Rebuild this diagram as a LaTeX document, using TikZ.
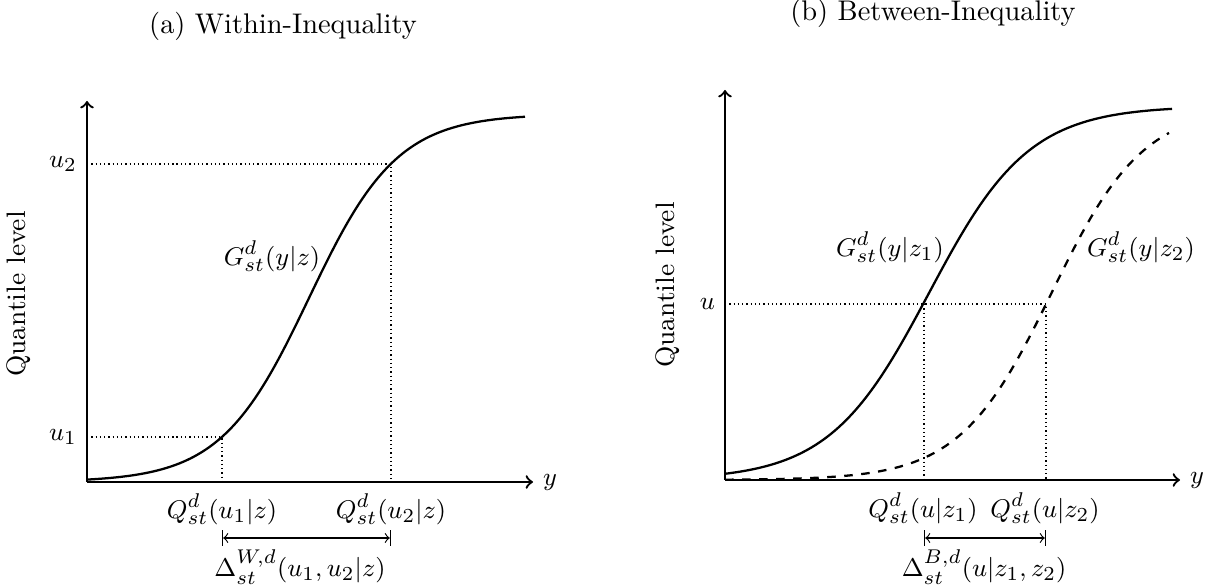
\documentclass[tikz,border=0pt]{standalone}
\begin{document}
\begin{tikzpicture}[x=0.352pt,y=-0.352pt,
  every node/.style={font=\fontsize{9.4}{11}\selectfont},
  axisline/.style={thick,->},
  guide/.style={dash pattern=on 0.45pt off 1.05pt},
  cdf/.style={thick},
  cdfdash/.style={thick,dashed},
  gap/.style={|<->|},
  lbl/.style={inner sep=0pt},
  ttl/.style={inner sep=0pt,font=\normalsize}]
\useasboundingbox (0,0) rectangle (1221,586);

% ---------- panel (a)
\node[ttl] (ta) at (283,26) {(a) Within-Inequality};
\coordinate (Oa) at (87,482);
\coordinate (Ya) at (87,101);
\coordinate (Xa) at (533,482);
\draw[axisline] (Oa) -- (Ya);
\draw[axisline] (Oa) -- (Xa);
\node[right] (ya) at (Xa) {$y$};
\node[rotate=90,lbl] (qla) at (19,294) {Quantile level};
\node[left] (u2) at (87,164) {$u_2$};
\node[left] (u1) at (87,437) {$u_1$};
\coordinate (P2) at (391,164);
\coordinate (P1) at (222,437);
\coordinate (B2) at (391,482);
\coordinate (B1) at (222,482);
\draw[guide] (u2.east) -- (P2) -- (B2);
\draw[guide] (u1.east) -- (P1) -- (B1);
\draw[cdf,domain=87:525,samples=120,smooth] plot (\x,{482-368/(1+exp(-(\x-309)/44.2))});
\node[lbl] (ga) at (272,256) {$G^d_{st}(y|z)$};
\node[lbl] (qa1) at (222,509) {$Q^d_{st}(u_1|z)$};
\node[lbl] (qa2) at (391,509) {$Q^d_{st}(u_2|z)$};
\coordinate (da1) at (222,538);
\coordinate (da2) at (391,538);
\draw[gap] (da1) -- (da2);
\node[lbl] (dla) at (300,567) {$\Delta^{W,d}_{st}(u_1,u_2|z)$};

% ---------- panel (b)
\node[ttl] (tb) at (933,13) {(b) Between-Inequality};
\coordinate (Ob) at (725,480);
\coordinate (Yb) at (725,90);
\coordinate (Xb) at (1180,480);
\draw[axisline] (Ob) -- (Yb);
\draw[axisline] (Ob) -- (Xb);
\node[right] (yb) at (Xb) {$y$};
\node[rotate=90,lbl] (qlb) at (668,285) {Quantile level};
\node[left] (uu) at (725,304) {$u$};
\coordinate (R1) at (924,304);
\coordinate (R2) at (1046,304);
\coordinate (C1) at (924,480);
\coordinate (C2) at (1046,480);
\draw[guide] (uu.east) -- (R2) -- (C2);
\draw[guide] (R1) -- (C1);
\draw[cdf,domain=725:1172,samples=120,smooth] plot (\x,{480-374/(1+exp(-(\x-929)/50))});
\draw[cdfdash,domain=725:1169,samples=120,smooth] plot (\x,{480-374/(1+exp(-(\x-1051.5)/46))});
\node[lbl] (gb1) at (890,247) {$G^d_{st}(y|z_1)$};
\node[lbl] (gb2) at (1141,247) {$G^d_{st}(y|z_2)$};
\node[lbl] (qb1) at (923,508) {$Q^d_{st}(u|z_1)$};
\node[lbl] (qb2) at (1045,508) {$Q^d_{st}(u|z_2)$};
\coordinate (db1) at (924,538);
\coordinate (db2) at (1046,538);
\draw[gap] (db1) -- (db2);
\node[lbl] (dlb) at (984,567) {$\Delta^{B,d}_{st}(u|z_1,z_2)$};
\end{tikzpicture}
\end{document}
